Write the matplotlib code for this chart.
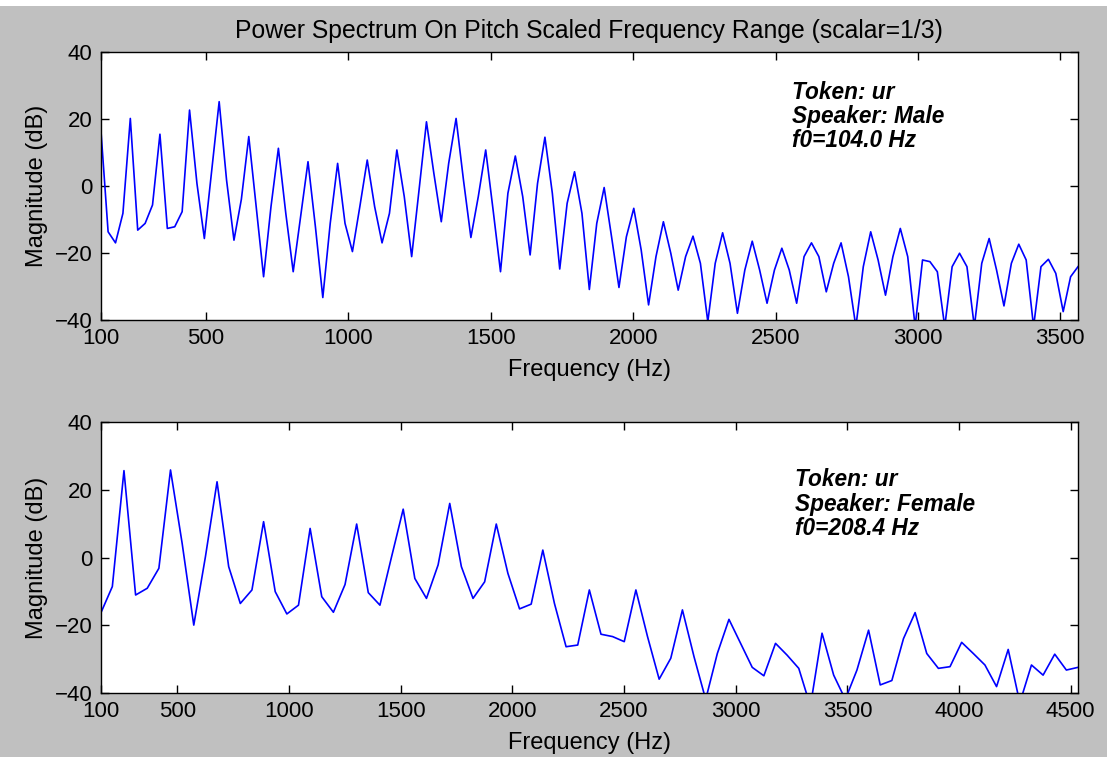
import numpy as np
import matplotlib
matplotlib.use("Agg")
import matplotlib.pyplot as plt
from matplotlib.patches import Rectangle

plt.rcParams["font.family"] = ["Liberation Sans", "DejaVu Sans"]

# ── Data ───────────────────────────────────────────────────────────────────────
# male speaker, f0 = 104.0 Hz, FFT bins of f0/4 (bins 5..137)
MALE_BIN_HZ = 26.0
male_bins = np.arange(5, 138)
male_db = [
    17.5, -13.7, -17.0, -8.2,
    20.1, -13.2, -11.2, -5.7,
    15.4, -12.7, -12.2, -7.7,
    22.6, 0.7, -15.7, 4.7,
    25.1, 1.7, -16.2, -4.0,
    14.7, -6.2, -27.1, -6.2,
    11.2, -8.2, -25.6, -9.2,
    7.2, -12.2, -33.3, -11.2,
    6.7, -11.2, -19.6, -6.2,
    7.7, -6.2, -17.0, -8.2,
    10.7, -3.2, -21.1, -1.2,
    19.1, 3.7, -10.7, 6.7,
    20.1, 1.7, -15.4, -3.2,
    10.7, -7.2, -25.6, -2.2,
    8.9, -3.2, -20.6, 0.7,
    14.5, -2.2, -24.8, -5.2,
    4.2, -8.2, -30.9, -11.2,
    -0.5, -15.2, -30.3, -15.2,
    -6.7, -19.1, -35.5, -21.1,
    -10.7, -20.1, -31.1, -21.1,
    -15.0, -23.1, -40.5, -23.1,
    -14.0, -23.1, -38.0, -25.1,
    -16.5, -25.1, -35.0, -25.1,
    -18.6, -25.1, -35.0, -21.1,
    -17.0, -21.1, -31.6, -23.1,
    -17.0, -27.1, -42.0, -24.1,
    -13.7, -22.1, -32.6, -21.1,
    -12.7, -21.1, -42.0, -22.1,
    -22.6, -25.6, -42.0, -24.1,
    -20.1, -24.1, -42.0, -23.1,
    -15.7, -25.1, -35.8, -23.1,
    -17.4, -22.1, -42.0, -24.1,
    -21.9, -26.1, -37.5, -27.1,
    -24.1,
]

# female speaker, f0 = 208.4 Hz, FFT bins of f0/4 (bins 3..87)
FEMALE_BIN_HZ = 52.1
female_bins = np.arange(3, 88)
female_db = [
    -16.5, -8.6,
    25.7, -11.1, -9.1, -3.2,
    25.9, 4.2, -20.0, 0.2,
    22.4, -2.7, -13.6, -9.6,
    10.6, -10.1, -16.7, -14.1,
    8.6, -11.6, -16.2, -8.0,
    9.9, -10.4, -14.1, 0.2,
    14.3, -6.2, -12.1, -2.2,
    16.0, -2.7, -12.1, -7.2,
    9.9, -4.7, -15.2, -13.8,
    2.2, -13.6, -26.4, -25.9,
    -9.6, -22.7, -23.4, -24.9,
    -9.6, -23.4, -36.0, -29.8,
    -15.5, -29.4, -42.0, -28.4,
    -18.3, -25.4, -32.5, -35.0,
    -25.4, -28.9, -32.8, -44.0,
    -22.4, -34.8, -42.0, -33.3,
    -21.5, -37.7, -36.4, -24.0,
    -16.3, -28.4, -32.8, -32.3,
    -25.1, -28.4, -31.8, -38.2,
    -27.2, -43.0, -31.8, -34.8,
    -28.6, -33.3, -32.5,
]

male_ticks = [500, 1000, 1500, 2000, 2500, 3000, 3500]
female_ticks = [500, 1000, 1500, 2000, 2500, 3000, 3500, 4000, 4500]
y_ticks = [-40, -20, 0, 20, 40]

male_info = ["Token: ur", "Speaker: Male", "f0=104.0 Hz"]
female_info = ["Token: ur", "Speaker: Female", "f0=208.4 Hz"]

TITLE = "Power Spectrum On Pitch Scaled Frequency Range (scalar=1/3)"

GRAY = "#c0c0c0"
W, H = 1107, 757


def style_axes(ax, freqs, ticks, info, info_xy):
    ax.set_facecolor("white")
    ax.set_xlim(freqs[0], freqs[-1])
    ax.set_ylim(-40, 40)
    ax.set_xticks([freqs[0]] + ticks)
    ax.set_xticklabels(["100"] + [str(t) for t in ticks])
    ax.set_yticks(y_ticks)
    ax.tick_params(direction="in", length=6, width=1, labelsize=16,
                   top=True, right=True, pad=6, colors="black")
    for s in ax.spines.values():
        s.set_color("black")
        s.set_linewidth(1)
    ax.set_xlabel("Frequency (Hz)", fontsize=17, labelpad=7)
    ax.set_ylabel("Magnitude (dB)", fontsize=17, labelpad=5)
    x0, y0 = info_xy
    for i, line in enumerate(info):
        ax.text(x0, y0 - i * 0.0895, line, transform=ax.transAxes,
                fontsize=16.3, fontweight="bold", fontstyle="italic",
                va="center", ha="left")


fig = plt.figure(figsize=(W / 100, H / 100), dpi=100)
fig.patch.set_facecolor(GRAY)
# thin white strip along the top edge of the screenshot
fig.patches.append(Rectangle((0, 1 - 6 / H), 1, 6 / H, transform=fig.transFigure,
                             facecolor="white", edgecolor="none"))

ax1 = fig.add_axes([100.7 / W, 1 - 320 / H, 977.3 / W, 268.3 / H])
ax2 = fig.add_axes([100.7 / W, 1 - 692.7 / H, 977.3 / W, 270.4 / H])

male_f = male_bins * MALE_BIN_HZ
female_f = female_bins * FEMALE_BIN_HZ

ax1.plot(male_f, male_db, color="#0000ff", linewidth=1.2)
ax2.plot(female_f, female_db, color="#0000ff", linewidth=1.2)

style_axes(ax1, male_f, male_ticks, male_info, (0.707, 0.847))
style_axes(ax2, female_f, female_ticks, female_info, (0.710, 0.787))

ax1.set_title(TITLE, fontsize=17.8, pad=10)

fig.savefig("out.png", dpi=100, facecolor=fig.get_facecolor())
